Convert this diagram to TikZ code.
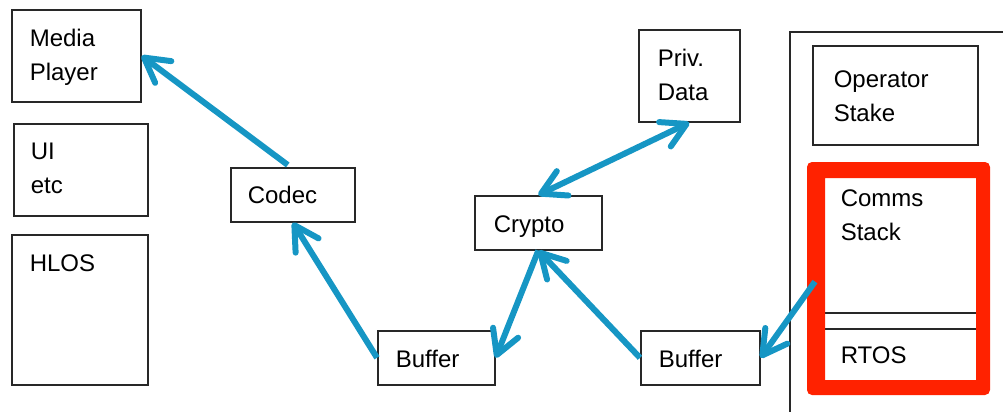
\documentclass[tikz,border=0pt]{standalone}
\usepackage{fontspec}
\setmainfont{Liberation Sans}
\usetikzlibrary{arrows.meta,calc}

\definecolor{flowblue}{RGB}{22,150,196}
\definecolor{alertred}{RGB}{255,34,0}
\definecolor{edgegray}{RGB}{40,40,40}

\tikzset{
  block/.style={draw=edgegray, line width=0.8pt, anchor=north west,
    inner ysep=0pt, align=left, text=black,
    font=\fontsize{12}{17}\selectfont},
  % width, height, left padding, first baseline below the top edge
  geom/.code n args={4}{%
    \pgfmathsetmacro\bw{(#1-2*#3)*0.5}%
    \pgfmathsetmacro\bp{#3*0.5}%
    \pgfmathsetmacro\bh{#4*0.5}%
    \pgfmathsetmacro\bd{(#2-#4)*0.5}%
    \edef\bnext{\noexpand\pgfkeysalso{text width=\bw pt, inner xsep=\bp pt,
      text height=\bh pt, text depth=\bd pt}}\bnext},
  barb/.tip={Straight Barb[length=12pt,width=13.5pt,round]},
  flow/.style={draw=flowblue, line width=3pt, -barb},
  flowboth/.style={draw=flowblue, line width=3pt, barb-barb},
}

\begin{document}
\begin{tikzpicture}[x=0.5pt, y=-0.5pt]
\useasboundingbox (0,0) rectangle (1003,412);

% left column
\node[block, geom={129}{92}{18}{37}]  (mp)    at (11,9)    {Media\\Player};
\node[block, geom={134}{92}{17}{36}]  (ui)    at (13,123)  {UI\\etc};
\node[block, geom={136}{150}{18}{37}] (hlos)  at (11,234)  {HLOS};

% processing chain
\node[block, geom={124}{54}{17}{36}]  (codec) at (230,167) {Codec};
\node[block, geom={127}{54}{19}{37}]  (crypto) at (474,195) {Crypto};
\node[block, geom={101}{92}{19}{37}]  (priv)  at (638,29)  {Priv.\\Data};
\node[block, geom={117}{54}{18}{37}]  (bufa)  at (377,330) {Buffer};
\node[block, geom={119}{54}{18}{37}]  (bufb)  at (640,330) {Buffer};

% modem side
\draw[draw=edgegray, line width=0.8pt] (790,412) -- (790,32) -- (1003,32);
\node[block, geom={165}{99}{21}{42}]  (op)    at (812,45)  {Operator\\Stake};
\node[block, geom={156}{136}{18}{30}] (comms) at (822,176) {Comms\\Stack};
\node[block, geom={156}{54}{18}{35}]  (rtos)  at (822,328) {RTOS};
% highlight frame around the comms stack and RTOS
\fill[alertred, even odd rule]
  [rounded corners=2.5pt] (807,162) rectangle (990,395)
  [sharp corners] (825,178) rectangle (976,380);

% data flow
\draw[flow] ($(codec.north)+(-5,-2)$) -- (mp.east);
\draw[flow] (bufa.west) -- (codec.south);
\draw[flow] (crypto.south) -- (bufa.east);
\draw[flow] (bufb.west) -- (crypto.south);
\draw[flowboth] (crypto.north) -- (priv.south);
\draw[flow] ($(comms.south west)+(-7,-32)$) -- (bufb.east);
\end{tikzpicture}
\end{document}
